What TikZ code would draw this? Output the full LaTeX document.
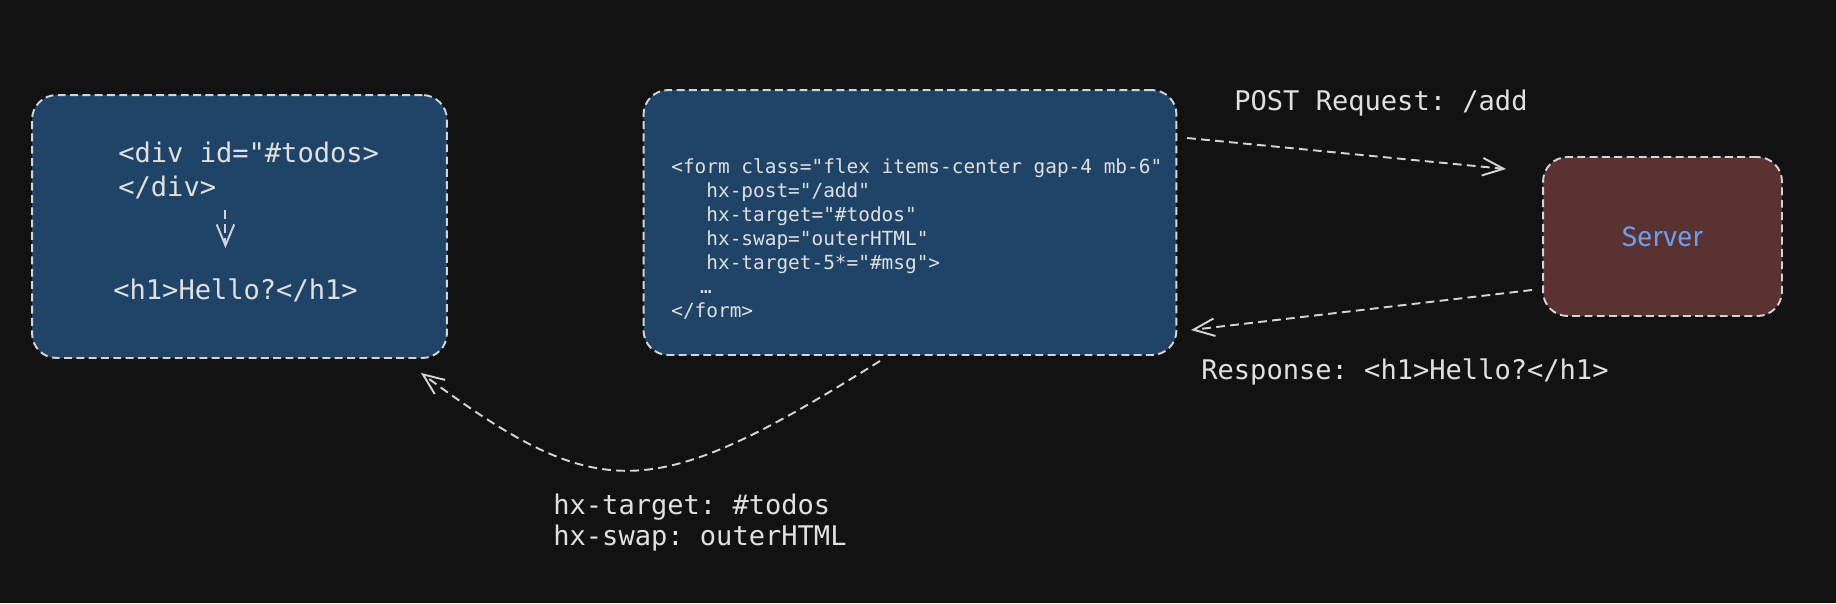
\documentclass[tikz,border=0pt]{standalone}
\usepackage{fontspec}
\setmonofont{DejaVu Sans Mono}
\newfontfamily\handfont{Fira Sans}
\usetikzlibrary{calc,positioning,arrows.meta}

\definecolor{canvas}{HTML}{121212}
\definecolor{boxblue}{HTML}{1F4468}
\definecolor{boxred}{HTML}{5B3232}
\definecolor{inkgrey}{HTML}{D4D4D4}
\definecolor{textgrey}{HTML}{E0E0E0}
\definecolor{serverblue}{HTML}{6C9CEC}

\tikzset{
  sketchbox/.style={draw=inkgrey, line width=1.1pt, dash pattern=on 4.5pt off 2.5pt, rounded corners=14pt, inner sep=0pt},
  flow/.style={draw=inkgrey, line width=1.1pt, dash pattern=on 5pt off 3pt, -{Straight Barb[length=12pt,width=10pt]}},
  code/.style={text=textgrey, inner sep=0pt, anchor=west, align=left, font=\ttfamily\fontsize{15.4}{17.6}\selectfont},
  smallcode/.style={code, font=\ttfamily\fontsize{11.05}{13.7}\selectfont},
}

\begin{document}
\begin{tikzpicture}[x=0.02cm, y=-0.02cm]
    \fill[canvas] (0,0) rectangle (1836,603);
    \useasboundingbox (0,0) rectangle (1836,603);

    % boxes
    \node[sketchbox, fill=boxblue, minimum width=8.3cm, minimum height=5.26cm] (todos) at (239.5,226.5) {};
    \node[sketchbox, fill=boxblue, minimum width=10.66cm, minimum height=5.3cm] (form) at (910,222.5) {};
    \node[sketchbox, fill=boxred, minimum width=4.78cm, minimum height=3.18cm,
          text=serverblue, font=\handfont\fontsize{16}{18}\selectfont] (server) at (1662.5,236.5) {Server};

    % target box content
    \node[code] (divopen) at (118,152) {<div id="\#todos>};
    \node[code] (divclose) at (118,187) {</div>};
    \node[code] (hello) at (113,290) {<h1>Hello?</h1>};
    \draw[flow] ($(divclose.east)+(9,23)$) -- ++(0,38);

    % form markup
    \node[smallcode] (formcode) at (671,239) {<form class="flex items-center gap-4 mb-6"\\
        \phantom{xxx}hx-post="/add"\\
        \phantom{xxx}hx-target="\#todos"\\
        \phantom{xxx}hx-swap="outerHTML"\\
        \phantom{xxx}hx-target-5*="\#msg">\\
        \phantom{xx}\hspace{3pt}\ldots\\
        </form>};

    % labels
    \node[code] (post) at (1234,103) {POST Request: /add};
    \node[code] (response) at (1201,372) {Response: <h1>Hello?</h1>};
    \node[code] (swaplabel) at (553,522.5) {hx-target: \#todos\\hx-swap: outerHTML};

    % connectors
    \draw[flow] ($(form.east)+(9.6,-84.5)$) -- ($(server.west)+(-36,-67.5)$);
    \draw[flow] ($(server.west)+(-10,53.5)$) -- ($(form.east)+(13.6,107.5)$);
    \draw[flow] ($(form.south)+(-30,5)$) .. controls (650,505) and (600,505) .. ($(todos.south east)+(-27,14)$);
\end{tikzpicture}
\end{document}
